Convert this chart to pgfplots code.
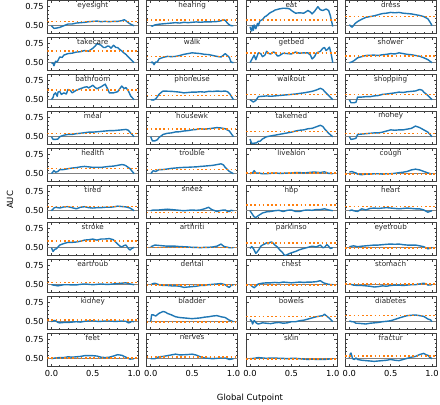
\documentclass[border=0pt]{standalone}
\usepackage{pgfplots}
\pgfplotsset{compat=1.18}
\usepgfplotslibrary{groupplots}
\usepackage{fontspec}
\setmainfont{DejaVu Sans}
\definecolor{cblue}{RGB}{31,119,180}
\definecolor{corange}{RGB}{255,127,14}
\pgfplotsset{/pgf/number format/assume math mode=true}
\newcommand{\panel}[3]{%
\nextgroupplot[title={#1}]
\addplot[black!50, line width=1.0pt] coordinates {(-0.05,0.5) (1.05,0.5)};
\addplot[cblue, line width=1.4pt, line join=round] coordinates {#2};
\addplot[corange, line width=1.6pt, dash pattern=on 1.6pt off 2.6pt] coordinates {(-0.05,#3) (1.05,#3)};
}
\begin{document}
\begin{tikzpicture}
\begin{groupplot}[
  group style={group size=4 by 10, horizontal sep=8.3pt, vertical sep=4pt,
    xticklabels at=edge bottom, yticklabels at=edge left},
  width=91pt, height=33pt, scale only axis,
  xmin=-0.05, xmax=1.05, ymin=0.395, ymax=0.829,
  xtick={0,0.5,1}, ytick={0.5,0.75},
  minor x tick num=4, minor y tick num=4,
  tick align=inside, tick pos=both,
  major tick length=2.6pt, minor tick length=1.4pt,
  every tick/.style={black!75, line width=0.5pt},
  axis line style={black!75, line width=0.6pt},
  xticklabel style={font=\fontsize{8.3}{9}\selectfont, /pgf/number format/.cd, fixed, fixed zerofill, precision=1},
  yticklabel style={font=\fontsize{8.3}{9}\selectfont, /pgf/number format/.cd, fixed, fixed zerofill, precision=2},
  every axis title/.style={at={(0.5,1)}, anchor=north, yshift=-0.3pt, inner sep=1.2pt, font=\fontsize{7.2}{8}\selectfont, text=black!85},
  clip=true,
]
\panel{eyesight}{(0,0.500) (0.03,0.465) (0.06,0.469) (0.1,0.478) (0.15,0.500) (0.2,0.522) (0.25,0.522) (0.3,0.535) (0.35,0.54) (0.4,0.544) (0.45,0.553) (0.5,0.557) (0.55,0.561) (0.6,0.553) (0.65,0.557) (0.7,0.553) (0.75,0.557) (0.8,0.557) (0.85,0.566) (0.88,0.579) (0.91,0.557) (0.94,0.531) (0.97,0.513) (1.0,0.50)}{0.557}
\panel{hearing}{(0,0.50) (0.02,0.495) (0.05,0.51) (0.1,0.52) (0.15,0.525) (0.2,0.53) (0.25,0.535) (0.3,0.54) (0.35,0.535) (0.4,0.545) (0.45,0.54) (0.5,0.545) (0.55,0.55) (0.6,0.545) (0.65,0.55) (0.7,0.55) (0.75,0.552) (0.8,0.555) (0.85,0.565) (0.88,0.578) (0.9,0.57) (0.93,0.53) (0.96,0.505) (0.98,0.50) (1.0,0.50)}{0.575}
\panel{eat}{(0,0.487) (0.01,0.45) (0.02,0.43) (0.03,0.50) (0.04,0.44) (0.05,0.51) (0.07,0.46) (0.09,0.53) (0.1,0.50) (0.12,0.565) (0.15,0.58) (0.18,0.62) (0.2,0.63) (0.23,0.66) (0.25,0.675) (0.28,0.69) (0.3,0.705) (0.35,0.72) (0.4,0.73) (0.45,0.728) (0.48,0.72) (0.5,0.70) (0.55,0.665) (0.6,0.67) (0.65,0.665) (0.7,0.70) (0.73,0.68) (0.75,0.655) (0.78,0.69) (0.82,0.75) (0.85,0.71) (0.88,0.70) (0.92,0.72) (0.95,0.70) (0.97,0.635) (1.0,0.49)}{0.575}
\panel{dress}{(0,0.513) (0.03,0.48) (0.05,0.50) (0.07,0.53) (0.1,0.555) (0.15,0.585) (0.2,0.61) (0.25,0.62) (0.3,0.63) (0.35,0.645) (0.4,0.66) (0.45,0.665) (0.5,0.675) (0.55,0.67) (0.6,0.675) (0.65,0.665) (0.7,0.66) (0.75,0.655) (0.8,0.645) (0.85,0.635) (0.9,0.62) (0.95,0.59) (0.98,0.54) (1.0,0.50)}{0.62}
\panel{takecare}{(0,0.50) (0.02,0.49) (0.03,0.46) (0.05,0.52) (0.07,0.51) (0.1,0.575) (0.13,0.57) (0.15,0.60) (0.2,0.62) (0.25,0.625) (0.3,0.64) (0.35,0.645) (0.4,0.66) (0.45,0.652) (0.5,0.69) (0.53,0.72) (0.55,0.75) (0.58,0.74) (0.6,0.73) (0.63,0.70) (0.65,0.70) (0.68,0.72) (0.7,0.715) (0.72,0.69) (0.75,0.73) (0.78,0.70) (0.8,0.70) (0.83,0.67) (0.85,0.655) (0.88,0.625) (0.9,0.61) (0.93,0.575) (0.95,0.555) (0.98,0.52) (1.0,0.50)}{0.653}
\panel{walk}{(0,0.50) (0.02,0.51) (0.04,0.475) (0.06,0.51) (0.08,0.51) (0.1,0.55) (0.15,0.57) (0.2,0.583) (0.25,0.58) (0.3,0.583) (0.35,0.595) (0.4,0.61) (0.45,0.62) (0.5,0.63) (0.55,0.625) (0.6,0.62) (0.65,0.61) (0.7,0.607) (0.75,0.595) (0.8,0.583) (0.85,0.575) (0.88,0.60) (0.9,0.62) (0.92,0.60) (0.95,0.57) (0.97,0.51) (1.0,0.50)}{0.583}
\panel{getbed}{(0,0.50) (0.03,0.56) (0.05,0.60) (0.07,0.54) (0.1,0.63) (0.13,0.62) (0.15,0.58) (0.18,0.60) (0.2,0.65) (0.23,0.62) (0.25,0.615) (0.28,0.64) (0.3,0.635) (0.33,0.59) (0.35,0.59) (0.4,0.625) (0.45,0.62) (0.5,0.615) (0.55,0.64) (0.6,0.625) (0.65,0.63) (0.7,0.63) (0.73,0.60) (0.75,0.55) (0.78,0.58) (0.8,0.625) (0.85,0.65) (0.88,0.69) (0.9,0.70) (0.92,0.66) (0.94,0.68) (0.96,0.705) (0.98,0.62) (1.0,0.50)}{0.63}
\panel{shower}{(0,0.50) (0.03,0.51) (0.06,0.53) (0.1,0.565) (0.15,0.58) (0.2,0.595) (0.25,0.598) (0.3,0.60) (0.35,0.595) (0.4,0.605) (0.45,0.61) (0.5,0.62) (0.55,0.615) (0.6,0.63) (0.65,0.62) (0.7,0.61) (0.75,0.605) (0.8,0.595) (0.85,0.585) (0.9,0.565) (0.95,0.54) (1.0,0.50)}{0.587}
\panel{bathroom}{(0,0.50) (0.02,0.53) (0.03,0.57) (0.05,0.59) (0.07,0.545) (0.08,0.60) (0.1,0.61) (0.12,0.57) (0.15,0.59) (0.18,0.575) (0.2,0.635) (0.23,0.62) (0.25,0.59) (0.28,0.61) (0.3,0.625) (0.35,0.645) (0.4,0.665) (0.43,0.67) (0.45,0.655) (0.5,0.69) (0.53,0.66) (0.55,0.645) (0.6,0.67) (0.65,0.705) (0.68,0.64) (0.7,0.59) (0.75,0.59) (0.8,0.605) (0.83,0.65) (0.85,0.68) (0.88,0.645) (0.9,0.66) (0.93,0.615) (0.96,0.545) (1.0,0.50)}{0.627}
\panel{phoneuse}{(0,0.50) (0.03,0.495) (0.06,0.51) (0.1,0.57) (0.13,0.60) (0.15,0.614) (0.2,0.612) (0.25,0.61) (0.3,0.605) (0.35,0.60) (0.4,0.59) (0.45,0.595) (0.5,0.60) (0.55,0.60) (0.6,0.605) (0.65,0.60) (0.7,0.61) (0.75,0.608) (0.8,0.614) (0.85,0.61) (0.9,0.614) (0.93,0.605) (0.96,0.57) (1.0,0.50)}{0.557}
\panel{walkout}{(0,0.50) (0.02,0.485) (0.04,0.47) (0.07,0.49) (0.1,0.54) (0.15,0.545) (0.2,0.55) (0.25,0.545) (0.3,0.55) (0.35,0.555) (0.4,0.56) (0.45,0.565) (0.5,0.57) (0.55,0.575) (0.6,0.583) (0.65,0.59) (0.7,0.60) (0.75,0.61) (0.8,0.627) (0.85,0.65) (0.88,0.635) (0.9,0.61) (0.95,0.555) (1.0,0.50)}{0.566}
\panel{shopping}{(0,0.50) (0.02,0.46) (0.05,0.46) (0.08,0.465) (0.1,0.535) (0.15,0.535) (0.2,0.54) (0.25,0.54) (0.3,0.55) (0.35,0.555) (0.4,0.57) (0.45,0.575) (0.5,0.583) (0.55,0.59) (0.6,0.60) (0.65,0.595) (0.7,0.605) (0.75,0.61) (0.8,0.615) (0.85,0.635) (0.88,0.625) (0.9,0.60) (0.95,0.555) (1.0,0.50)}{0.566}
\panel{meal}{(0,0.50) (0.02,0.465) (0.05,0.465) (0.08,0.47) (0.1,0.50) (0.15,0.52) (0.2,0.53) (0.25,0.53) (0.3,0.54) (0.35,0.545) (0.4,0.553) (0.45,0.56) (0.5,0.56) (0.55,0.565) (0.6,0.57) (0.65,0.575) (0.7,0.58) (0.75,0.58) (0.8,0.585) (0.85,0.59) (0.9,0.596) (0.93,0.585) (0.96,0.545) (1.0,0.50)}{0.544}
\panel{housewk}{(0,0.50) (0.02,0.445) (0.05,0.445) (0.08,0.46) (0.1,0.49) (0.15,0.53) (0.2,0.545) (0.25,0.55) (0.3,0.563) (0.35,0.565) (0.4,0.575) (0.45,0.58) (0.5,0.59) (0.55,0.595) (0.6,0.605) (0.65,0.60) (0.7,0.605) (0.75,0.612) (0.8,0.62) (0.85,0.615) (0.9,0.605) (0.95,0.575) (1.0,0.50)}{0.605}
\panel{takemed}{(0,0.47) (0.02,0.41) (0.05,0.415) (0.08,0.42) (0.1,0.44) (0.12,0.44) (0.15,0.47) (0.2,0.50) (0.25,0.51) (0.3,0.52) (0.35,0.53) (0.4,0.54) (0.45,0.55) (0.5,0.56) (0.55,0.575) (0.6,0.585) (0.65,0.59) (0.7,0.605) (0.75,0.61) (0.8,0.63) (0.85,0.65) (0.88,0.635) (0.9,0.605) (0.95,0.545) (1.0,0.50)}{0.57}
\panel{money}{(0,0.50) (0.02,0.465) (0.05,0.47) (0.08,0.48) (0.1,0.53) (0.15,0.535) (0.2,0.54) (0.25,0.545) (0.3,0.55) (0.35,0.55) (0.4,0.56) (0.45,0.575) (0.5,0.59) (0.55,0.585) (0.6,0.59) (0.65,0.59) (0.7,0.60) (0.75,0.61) (0.8,0.64) (0.85,0.62) (0.9,0.59) (0.95,0.56) (1.0,0.50)}{0.544}
\panel{health}{(0,0.50) (0.03,0.54) (0.05,0.52) (0.08,0.53) (0.1,0.553) (0.15,0.555) (0.2,0.566) (0.25,0.575) (0.3,0.58) (0.35,0.59) (0.4,0.596) (0.45,0.59) (0.5,0.583) (0.55,0.585) (0.6,0.583) (0.65,0.59) (0.7,0.596) (0.75,0.60) (0.8,0.61) (0.85,0.62) (0.88,0.615) (0.9,0.605) (0.95,0.566) (1.0,0.50)}{0.566}
\panel{trouble}{(0,0.50) (0.03,0.54) (0.06,0.53) (0.1,0.553) (0.15,0.555) (0.2,0.562) (0.25,0.57) (0.3,0.575) (0.35,0.58) (0.4,0.583) (0.45,0.585) (0.5,0.588) (0.55,0.59) (0.6,0.596) (0.65,0.60) (0.7,0.605) (0.75,0.61) (0.8,0.62) (0.85,0.63) (0.88,0.615) (0.9,0.583) (0.95,0.53) (1.0,0.50)}{0.553}
\panel{livealon}{(0,0.50) (0.03,0.51) (0.05,0.54) (0.07,0.51) (0.1,0.51) (0.15,0.50) (0.2,0.50) (0.25,0.505) (0.3,0.51) (0.35,0.505) (0.4,0.505) (0.45,0.51) (0.5,0.51) (0.55,0.515) (0.6,0.515) (0.65,0.51) (0.7,0.515) (0.75,0.52) (0.8,0.52) (0.85,0.515) (0.9,0.525) (0.95,0.505) (1.0,0.50)}{0.51}
\panel{cough}{(0,0.52) (0.03,0.53) (0.05,0.52) (0.08,0.51) (0.1,0.495) (0.15,0.487) (0.2,0.495) (0.25,0.495) (0.3,0.50) (0.35,0.50) (0.4,0.495) (0.45,0.50) (0.5,0.50) (0.55,0.505) (0.6,0.513) (0.65,0.52) (0.7,0.53) (0.75,0.55) (0.8,0.56) (0.85,0.55) (0.9,0.53) (0.95,0.51) (1.0,0.495)}{0.495}
\panel{tired}{(0,0.50) (0.03,0.535) (0.05,0.545) (0.08,0.54) (0.1,0.535) (0.15,0.55) (0.2,0.553) (0.25,0.54) (0.3,0.525) (0.35,0.545) (0.4,0.553) (0.45,0.54) (0.5,0.535) (0.55,0.54) (0.6,0.54) (0.65,0.545) (0.7,0.545) (0.75,0.55) (0.8,0.56) (0.85,0.555) (0.9,0.55) (0.95,0.535) (1.0,0.50)}{0.553}
\panel{sneez}{(0,0.50) (0.03,0.51) (0.05,0.51) (0.1,0.51) (0.15,0.515) (0.2,0.52) (0.25,0.515) (0.3,0.51) (0.35,0.505) (0.4,0.50) (0.45,0.505) (0.5,0.51) (0.55,0.505) (0.6,0.51) (0.65,0.525) (0.7,0.545) (0.73,0.52) (0.75,0.51) (0.8,0.49) (0.85,0.505) (0.9,0.51) (0.93,0.49) (0.95,0.49) (0.97,0.505) (1.0,0.50)}{0.478}
\panel{hbp}{(0,0.50) (0.03,0.45) (0.05,0.42) (0.07,0.41) (0.1,0.435) (0.15,0.47) (0.2,0.485) (0.25,0.49) (0.3,0.50) (0.35,0.505) (0.4,0.49) (0.45,0.505) (0.5,0.51) (0.55,0.49) (0.6,0.49) (0.65,0.505) (0.7,0.51) (0.75,0.505) (0.8,0.515) (0.85,0.515) (0.9,0.525) (0.95,0.51) (1.0,0.50)}{0.575}
\panel{heart}{(0,0.50) (0.03,0.51) (0.05,0.50) (0.1,0.49) (0.15,0.525) (0.2,0.51) (0.25,0.53) (0.3,0.535) (0.35,0.53) (0.4,0.535) (0.45,0.54) (0.5,0.535) (0.55,0.53) (0.6,0.525) (0.65,0.53) (0.7,0.535) (0.75,0.53) (0.8,0.525) (0.85,0.525) (0.9,0.51) (0.95,0.48) (0.97,0.49) (1.0,0.50)}{0.553}
\panel{stroke}{(0,0.50) (0.02,0.45) (0.04,0.48) (0.06,0.485) (0.1,0.535) (0.15,0.555) (0.2,0.57) (0.25,0.57) (0.3,0.575) (0.35,0.585) (0.4,0.60) (0.45,0.605) (0.5,0.614) (0.55,0.60) (0.6,0.614) (0.65,0.615) (0.7,0.62) (0.75,0.605) (0.78,0.57) (0.8,0.548) (0.83,0.52) (0.85,0.51) (0.88,0.53) (0.9,0.535) (0.93,0.49) (0.95,0.47) (0.97,0.49) (1.0,0.505)}{0.588}
\panel{arthriti}{(0,0.513) (0.05,0.535) (0.1,0.53) (0.15,0.525) (0.2,0.52) (0.25,0.52) (0.3,0.52) (0.35,0.515) (0.4,0.513) (0.45,0.51) (0.5,0.505) (0.55,0.505) (0.6,0.50) (0.65,0.505) (0.7,0.505) (0.75,0.51) (0.8,0.52) (0.85,0.548) (0.88,0.52) (0.9,0.513) (0.95,0.50) (1.0,0.50)}{0.505}
\panel{parkinso}{(0,0.49) (0.02,0.515) (0.04,0.49) (0.07,0.425) (0.09,0.45) (0.11,0.48) (0.13,0.52) (0.15,0.535) (0.18,0.55) (0.2,0.565) (0.22,0.55) (0.24,0.57) (0.26,0.575) (0.28,0.56) (0.3,0.535) (0.33,0.51) (0.36,0.47) (0.39,0.44) (0.42,0.395) (0.45,0.41) (0.48,0.425) (0.52,0.44) (0.56,0.455) (0.6,0.475) (0.65,0.49) (0.7,0.505) (0.75,0.52) (0.8,0.51) (0.85,0.535) (0.88,0.50) (0.9,0.505) (0.93,0.54) (0.95,0.52) (0.97,0.49) (1.0,0.50)}{0.565}
\panel{eyetroub}{(0,0.513) (0.05,0.525) (0.1,0.513) (0.15,0.52) (0.2,0.525) (0.25,0.53) (0.3,0.535) (0.35,0.535) (0.4,0.54) (0.45,0.545) (0.5,0.548) (0.55,0.545) (0.6,0.548) (0.65,0.54) (0.7,0.535) (0.75,0.535) (0.8,0.535) (0.85,0.525) (0.9,0.513) (0.95,0.485) (1.0,0.50)}{0.50}
\panel{eartroub}{(0,0.50) (0.05,0.49) (0.08,0.485) (0.1,0.49) (0.15,0.50) (0.2,0.50) (0.25,0.497) (0.3,0.497) (0.35,0.505) (0.4,0.51) (0.45,0.505) (0.5,0.50) (0.55,0.505) (0.6,0.51) (0.65,0.505) (0.7,0.505) (0.75,0.51) (0.8,0.515) (0.85,0.52) (0.9,0.525) (0.95,0.51) (1.0,0.50)}{0.53}
\panel{dental}{(0,0.50) (0.03,0.515) (0.05,0.52) (0.1,0.50) (0.15,0.49) (0.2,0.49) (0.25,0.485) (0.3,0.485) (0.35,0.48) (0.4,0.465) (0.45,0.47) (0.5,0.475) (0.55,0.48) (0.6,0.49) (0.65,0.49) (0.7,0.50) (0.75,0.505) (0.8,0.51) (0.85,0.515) (0.9,0.50) (0.93,0.475) (0.95,0.465) (0.97,0.49) (1.0,0.50)}{0.497}
\panel{chest}{(0,0.50) (0.03,0.475) (0.05,0.46) (0.08,0.49) (0.1,0.51) (0.15,0.52) (0.2,0.525) (0.25,0.525) (0.3,0.53) (0.35,0.525) (0.4,0.535) (0.45,0.53) (0.5,0.525) (0.55,0.53) (0.6,0.535) (0.65,0.53) (0.7,0.535) (0.75,0.535) (0.8,0.54) (0.85,0.553) (0.88,0.53) (0.9,0.52) (0.95,0.505) (1.0,0.50)}{0.50}
\panel{stomach}{(0,0.51) (0.05,0.495) (0.1,0.49) (0.15,0.49) (0.2,0.485) (0.25,0.48) (0.3,0.47) (0.35,0.475) (0.4,0.485) (0.45,0.48) (0.5,0.49) (0.55,0.495) (0.6,0.495) (0.65,0.49) (0.7,0.495) (0.75,0.50) (0.8,0.50) (0.85,0.51) (0.9,0.52) (0.93,0.51) (0.95,0.495) (1.0,0.50)}{0.51}
\panel{kidney}{(0,0.50) (0.03,0.515) (0.05,0.513) (0.08,0.49) (0.1,0.485) (0.15,0.49) (0.2,0.49) (0.25,0.495) (0.3,0.50) (0.35,0.495) (0.4,0.505) (0.45,0.51) (0.5,0.513) (0.55,0.505) (0.6,0.505) (0.65,0.51) (0.7,0.51) (0.75,0.505) (0.8,0.505) (0.85,0.51) (0.9,0.505) (0.93,0.485) (0.95,0.49) (0.97,0.505) (1.0,0.50)}{0.526}
\panel{bladder}{(0,0.50) (0.01,0.59) (0.03,0.59) (0.06,0.575) (0.1,0.61) (0.15,0.635) (0.18,0.625) (0.2,0.61) (0.25,0.59) (0.3,0.565) (0.35,0.555) (0.4,0.55) (0.45,0.545) (0.5,0.54) (0.55,0.545) (0.6,0.55) (0.65,0.56) (0.7,0.565) (0.75,0.575) (0.8,0.58) (0.85,0.565) (0.9,0.555) (0.95,0.52) (1.0,0.50)}{0.50}
\panel{bowels}{(0,0.53) (0.02,0.51) (0.03,0.47) (0.05,0.515) (0.08,0.48) (0.1,0.47) (0.15,0.485) (0.2,0.48) (0.25,0.475) (0.3,0.485) (0.35,0.49) (0.4,0.48) (0.45,0.485) (0.5,0.50) (0.55,0.50) (0.6,0.513) (0.65,0.52) (0.7,0.535) (0.75,0.55) (0.8,0.565) (0.85,0.575) (0.88,0.58) (0.9,0.60) (0.93,0.57) (0.96,0.545) (1.0,0.50)}{0.57}
\panel{diabetes}{(0,0.51) (0.03,0.50) (0.05,0.50) (0.08,0.48) (0.1,0.48) (0.15,0.475) (0.2,0.47) (0.25,0.48) (0.3,0.485) (0.35,0.49) (0.4,0.50) (0.45,0.505) (0.5,0.513) (0.55,0.53) (0.6,0.548) (0.65,0.565) (0.7,0.58) (0.75,0.585) (0.8,0.588) (0.85,0.58) (0.9,0.57) (0.95,0.535) (0.98,0.525) (1.0,0.50)}{0.58}
\panel{feet}{(0,0.50) (0.05,0.51) (0.1,0.515) (0.15,0.515) (0.2,0.525) (0.25,0.52) (0.3,0.525) (0.35,0.53) (0.4,0.54) (0.45,0.54) (0.5,0.54) (0.55,0.535) (0.6,0.52) (0.65,0.515) (0.7,0.52) (0.75,0.535) (0.8,0.553) (0.85,0.545) (0.9,0.52) (0.95,0.495) (1.0,0.50)}{0.51}
\panel{nerves}{(0,0.50) (0.05,0.50) (0.1,0.525) (0.15,0.53) (0.2,0.54) (0.25,0.55) (0.3,0.56) (0.35,0.55) (0.4,0.552) (0.45,0.555) (0.5,0.56) (0.55,0.548) (0.6,0.525) (0.65,0.51) (0.7,0.505) (0.75,0.50) (0.8,0.505) (0.85,0.51) (0.9,0.51) (0.95,0.49) (1.0,0.50)}{0.526}
\panel{skin}{(0,0.50) (0.05,0.505) (0.1,0.515) (0.15,0.51) (0.2,0.505) (0.25,0.51) (0.3,0.51) (0.35,0.505) (0.4,0.505) (0.45,0.50) (0.5,0.505) (0.55,0.505) (0.6,0.50) (0.65,0.495) (0.7,0.49) (0.75,0.495) (0.8,0.49) (0.85,0.49) (0.9,0.49) (0.95,0.495) (1.0,0.50)}{0.50}
\panel{fractur}{(0,0.51) (0.01,0.56) (0.02,0.575) (0.04,0.50) (0.06,0.49) (0.08,0.51) (0.1,0.49) (0.15,0.48) (0.2,0.475) (0.25,0.47) (0.3,0.465) (0.35,0.47) (0.4,0.475) (0.45,0.48) (0.5,0.49) (0.55,0.48) (0.6,0.475) (0.65,0.49) (0.7,0.505) (0.75,0.52) (0.8,0.53) (0.85,0.555) (0.9,0.57) (0.93,0.55) (0.95,0.545) (0.97,0.52) (1.0,0.50)}{0.535}
\end{groupplot}
\coordinate (O) at (group c1r1.north west);
\node[rotate=90, font=\fontsize{8.5}{10}\selectfont] at ([shift={(-37.3pt,-199.3pt)}]O) {AUC};
\node[font=\fontsize{8.5}{10}\selectfont] at ([shift={(202.7pt,-397.3pt)}]O) {Global Cutpoint};
\pgfresetboundingbox
\path[use as bounding box] ([shift={(-47.3pt,0.7pt)}]O) rectangle ([shift={(392.7pt,-404.3pt)}]O);
\end{tikzpicture}
\end{document}
